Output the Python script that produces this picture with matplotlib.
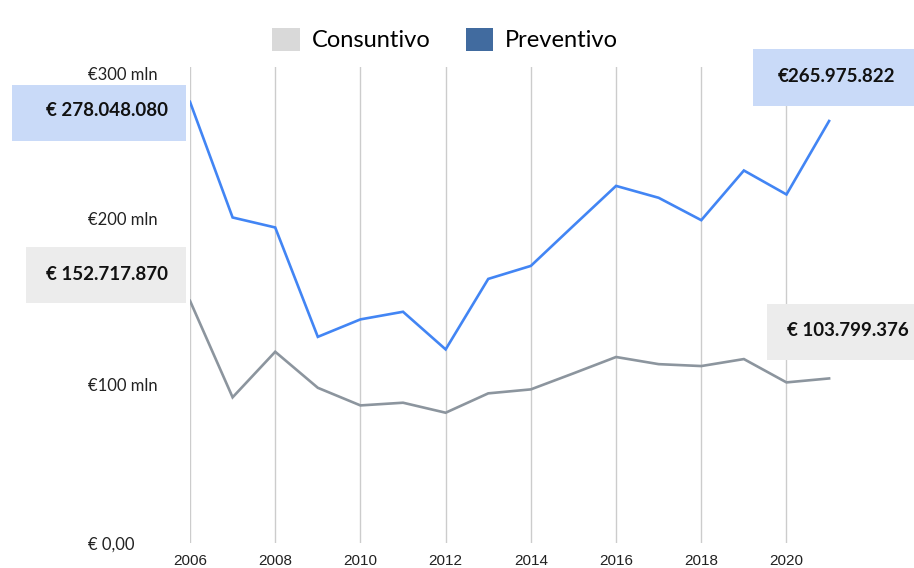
import matplotlib
matplotlib.use("Agg")
import matplotlib.pyplot as plt
from matplotlib.patches import Rectangle, Patch
from matplotlib.transforms import ScaledTranslation

# ---- data ----
years = list(range(2006, 2022))
preventivo = [278.05, 205.2, 198.9, 130.0, 141.0, 145.8, 122.1, 166.5, 174.7,
              200.0, 225.1, 217.6, 203.5, 234.8, 219.7, 265.98]
consuntivo = [152.72, 91.9, 120.6, 97.9, 86.8, 88.5, 82.2, 94.4, 96.9,
              107.0, 117.3, 112.8, 111.6, 116.0, 101.3, 103.80]
xticks = [2006, 2008, 2010, 2012, 2014, 2016, 2018, 2020]
yticks = [0, 100, 200, 300]
ytick_labels = ["€ 0,00", "€100 mln", "€200 mln", "€300 mln"]
series_names = ["Consuntivo", "Preventivo"]
first_labels = ["€ 152.717.870", "€ 278.048.080"]
last_labels = ["€ 103.799.376", "€265.975.822"]

W, H = 914, 568
fig = plt.figure(figsize=(W / 100, H / 100), dpi=100)
ax = fig.add_axes([190 / W, 1 - 543.2 / H, (893 - 190) / W, (543.2 - 67) / H])

C_BLUE = "#4285f4"
C_GRAY = "#8c959e"
ax.plot(years, consuntivo, color=C_GRAY, lw=1.9, zorder=3, solid_joinstyle="miter")
ax.plot(years, preventivo, color=C_BLUE, lw=1.9, zorder=3, solid_joinstyle="miter")

ax.set_xlim(2006, 2022.5)
ax.set_ylim(0, 300)
for s in ax.spines.values():
    s.set_visible(False)
ax.set_xticks(xticks)
ax.set_xticklabels([str(x) for x in xticks], fontfamily="Liberation Sans", fontsize=11, color="#222222")
ax.set_yticks(yticks)
ax.set_yticklabels(ytick_labels, fontfamily="Lato", fontsize=12, color="#222222", ha="left")
ax.tick_params(axis="both", length=0)
ax.tick_params(axis="y", pad=102 * 0.72)
ax.tick_params(axis="x", pad=7.5)
ax.grid(axis="x", color="#cccccc", lw=1)
ax.grid(axis="y", visible=False)

# small vertical nudges of y labels to match the original placement (pixels, + = down)
nudges = [0, 0, -7, 6]
for lab, dy in zip(ax.get_yticklabels(), nudges):
    lab.set_transform(lab.get_transform() + ScaledTranslation(0, -dy / 100, fig.dpi_scale_trans))

# ---- legend ----
handles = [Patch(facecolor="#d9d9d9", edgecolor="none"),
           Patch(facecolor="#416b9f", edgecolor="none")]
fig.legend(handles, series_names, loc="center", bbox_to_anchor=(445 / W, 1 - 39.5 / H),
           ncol=2, frameon=False, prop={"family": "Lato", "size": 17},
           handlelength=1.15, handleheight=1.15, handletextpad=0.5, columnspacing=1.5)

# ---- value callouts ----
def box(x0, y0, x1, y1, color):
    fig.add_artist(Rectangle((x0 / W, 1 - y1 / H), (x1 - x0) / W, (y1 - y0) / H,
                             transform=fig.transFigure, facecolor=color, edgecolor="none", zorder=1))

def label(text, xr, yc, ha="right"):
    fig.text(xr / W, 1 - yc / H, text, ha=ha, va="center", fontsize=13.5,
             fontweight="bold", fontfamily="Lato", color="#111111", zorder=2)

box(12, 85, 186, 141, "#c9daf8")
label(first_labels[1], 168, 111)
box(26, 247, 186, 303, "#ececec")
label(first_labels[0], 168, 274)
box(753, 49, 914, 106, "#c9daf8")
label(last_labels[1], 895, 76)
box(767, 304, 914, 360, "#ececec")
label(last_labels[0], 909, 331)

fig.savefig("out.png", dpi=100)
